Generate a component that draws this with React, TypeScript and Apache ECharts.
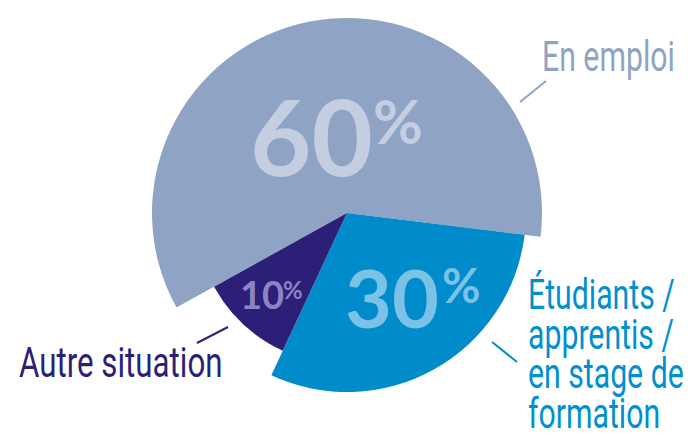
import React, { useEffect, useRef } from "react";
import * as echarts from "echarts";

const categories = ["En emploi", "Étudiants / apprentis / en stage de formation", "Autre situation"];
const values = [60, 30, 10];
const labelLines = [["En emploi"], ["Étudiants /", "apprentis /", "en stage de", "formation"], ["Autre situation"]];

const sliceColors = ["#8fa3c4", "#008bca", "#2b1f78"];
const textColors = ["#8fa3c4", "#0090cf", "#2b1f78"];
const pctColors = ["#c5cee1", "#7cc1e6", "#8c84c4"];
const radii = [195, 179, 152];

export default function App() {
  const ref = useRef<HTMLDivElement>(null);
  useEffect(() => {
    if (!ref.current) return;
    const chart = echarts.init(ref.current, undefined, { renderer: "svg" });
    const series = radii.map((r, s) => ({
      type: "pie",
      center: [347, 213],
      radius: [0, r],
      startAngle: 209,
      clockwise: true,
      silent: true,
      z: 2,
      label: { show: false },
      labelLine: { show: false },
      emphasis: { disabled: true },
      data: values.map((v, i) => ({
        name: categories[i],
        value: v,
        itemStyle: { color: i === s ? sliceColors[i] : "rgba(0,0,0,0)", borderWidth: 0 },
      })),
    }));
    const pctPos = [
      { x: 250, y: 135, fs: 106, px: 373, py: 120, pfs: 61 },
      { x: 345, y: 296, fs: 81, px: 442, py: 285, pfs: 47 },
      { x: 240, y: 294, fs: 38, px: 283, py: 289, pfs: 24 },
    ];
    const pctTexts: any[] = [];
    values.forEach((v, i) => {
      const p = pctPos[i];
      pctTexts.push({
        type: "text", x: p.x, y: p.y, z: 100, silent: true,
        style: { text: String(v), font: `bold ${p.fs}px Lato`, fill: pctColors[i], textAlign: "left", textVerticalAlign: "middle" },
      });
      pctTexts.push({
        type: "text", x: p.px, y: p.py, z: 100, silent: true,
        style: { text: "%", font: `bold ${p.pfs}px Lato`, fill: pctColors[i], textAlign: "left", textVerticalAlign: "middle" },
      });
    });
    const labelPos = [
      { x: 542, y: 37, sx: 0.72 },
      { x: 528, y: 275, sx: 0.72 },
      { x: 19, y: 343, sx: 0.745 },
    ];
    const labelTexts = labelLines.map((lines, i) => ({
      type: "text", x: labelPos[i].x, y: labelPos[i].y, scaleX: labelPos[i].sx, z: 100, silent: true,
      style: {
        text: lines.join("\n"), font: "42px Roboto", lineHeight: 39.5, fill: textColors[i],
        textAlign: "left", textVerticalAlign: "top",
      },
    }));
    const leaders = [
      [520, 102, 546, 81],
      [492, 342, 517, 362],
      [228, 327, 197, 343],
    ].map((l, i) => ({
      type: "line", silent: true, z: 100,
      shape: { x1: l[0], y1: l[1], x2: l[2], y2: l[3] },
      style: { stroke: sliceColors[i], lineWidth: 2 },
    }));
    chart.setOption({
      animation: false,
      backgroundColor: "#ffffff",
      series,
      graphic: [...pctTexts, ...labelTexts, ...leaders],
    });
    return () => chart.dispose();
  }, []);
  return <div ref={ref} style={{ width: 700, height: 442, position: "absolute", left: 0, top: 0 }} />;
}
